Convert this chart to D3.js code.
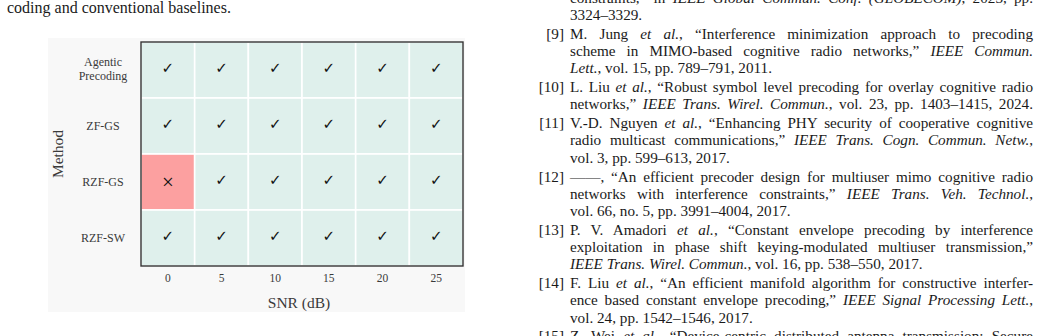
<!DOCTYPE html>
<html>
<head>
<meta charset="utf-8">
<script src="https://cdn.jsdelivr.net/npm/d3@7"></script>
<style>
  html, body { margin: 0; padding: 0; background: #fff; }
  #page { position: relative; width: 1041px; height: 336px; overflow: hidden; background: #fff; }
  .ln { position: absolute; font-family: "Liberation Serif", "Times New Roman", serif; color: #1a1a1a; white-space: nowrap; line-height: 1; }
  .j { text-align: justify; text-align-last: justify; }
  svg { position: absolute; left: 0; top: 0; }
</style>
</head>
<body>
<div id="page"></div>
<script>
// ---------------- chart data ----------------
const methods = ["Agentic Precoding", "ZF-GS", "RZF-GS", "RZF-SW"];
const snrTicks = [0, 5, 10, 15, 20, 25];
// 1 = feasible (check), 0 = infeasible (cross)
const agenticFeasible = [1, 1, 1, 1, 1, 1];
const zfgsFeasible    = [1, 1, 1, 1, 1, 1];
const rzfgsFeasible   = [0, 1, 1, 1, 1, 1];
const rzfswFeasible   = [1, 1, 1, 1, 1, 1];
const xLabel = "SNR (dB)";
const yLabel = "Method";

// ---------------- surrounding page text ----------------
const leftLines = ["coding and conventional baselines."];
const refLines = [
  {lab: "",     t: "constraints,” in *IEEE Global Commun. Conf. (GLOBECOM)*, 2023, pp.", j: true, gap: false},
  {lab: "",     t: "3324–3329.", j: false, gap: false},
  {lab: "[9]",  t: "M. Jung *et al.*, “Interference minimization approach to precoding", j: true, gap: true},
  {lab: "",     t: "scheme in MIMO-based cognitive radio networks,” *IEEE Commun.*", j: true, gap: false},
  {lab: "",     t: "*Lett.*, vol. 15, pp. 789–791, 2011.", j: false, gap: false},
  {lab: "[10]", t: "L. Liu *et al.*, “Robust symbol level precoding for overlay cognitive radio", j: true, gap: true},
  {lab: "",     t: "networks,” *IEEE Trans. Wirel. Commun.*, vol. 23, pp. 1403–1415, 2024.", j: true, gap: false},
  {lab: "[11]", t: "V.-D. Nguyen *et al.*, “Enhancing PHY security of cooperative cognitive", j: true, gap: true},
  {lab: "",     t: "radio multicast communications,” *IEEE Trans. Cogn. Commun. Netw.*,", j: true, gap: false},
  {lab: "",     t: "vol. 3, pp. 599–613, 2017.", j: false, gap: false},
  {lab: "[12]", t: "——, “An efficient precoder design for multiuser mimo cognitive radio", j: true, gap: true},
  {lab: "",     t: "networks with interference constraints,” *IEEE Trans. Veh. Technol.*,", j: true, gap: false},
  {lab: "",     t: "vol. 66, no. 5, pp. 3991–4004, 2017.", j: false, gap: false},
  {lab: "[13]", t: "P. V. Amadori *et al.*, “Constant envelope precoding by interference", j: true, gap: true},
  {lab: "",     t: "exploitation in phase shift keying-modulated multiuser transmission,”", j: true, gap: false},
  {lab: "",     t: "*IEEE Trans. Wirel. Commun.*, vol. 16, pp. 538–550, 2017.", j: false, gap: false},
  {lab: "[14]", t: "F. Liu *et al.*, “An efficient manifold algorithm for constructive interfer-", j: true, gap: true},
  {lab: "",     t: "ence based constant envelope precoding,” *IEEE Signal Processing Lett.*,", j: true, gap: false},
  {lab: "",     t: "vol. 24, pp. 1542–1546, 2017.", j: false, gap: false},
  {lab: "[15]", t: "Z. Wei *et al.*, “Device-centric distributed antenna transmission: Secure", j: true, gap: true}
];

const page = d3.select("#page");

function fillMarkup(sel, str) {
  str.split("*").forEach((part, i) => {
    if (!part) return;
    sel.append("span").style("font-style", i % 2 ? "italic" : "normal").text(part);
  });
}

// left column body text
const bodyFs = 16;
leftLines.forEach((s, i) => {
  const base = 13 + i * 19;
  page.append("div").attr("class", "ln")
    .style("left", "7px").style("top", (base - 0.8375 * bodyFs) + "px")
    .style("font-size", bodyFs + "px").text(s);
});

// right column references
const refFs = 15.2, pitch = 17.2, refGap = 1.7;
let base = 2.5;
refLines.forEach((r, i) => {
  if (i > 0) base += pitch + (r.gap ? refGap : 0);
  const top = base - 0.8375 * refFs;
  if (r.lab) {
    page.append("div").attr("class", "ln")
      .style("left", "520px").style("width", "44px").style("text-align", "right")
      .style("top", top + "px").style("font-size", refFs + "px").text(r.lab);
  }
  const d = page.append("div").attr("class", "ln" + (r.j ? " j" : ""))
    .style("left", "570px").style("width", "463px")
    .style("top", top + "px").style("font-size", refFs + "px");
  fillMarkup(d, r.t);
});

// ---------------- chart ----------------
const W = 1041, H = 336;
const svg = page.append("svg").attr("width", W).attr("height", H);
const font = "'Liberation Serif', 'Times New Roman', serif";
const labelColor = "#3a3a3a";

// figure background
svg.append("rect").attr("x", 48).attr("y", 38).attr("width", 417).attr("height", 274)
  .attr("fill", "#f8f8f8");

const plot = {left: 141, right: 463, top: 42, bottom: 266};
const x = d3.scaleBand().domain(snrTicks).range([plot.left, plot.right]);
const y = d3.scaleBand().domain(methods).range([plot.top, plot.bottom]);

const series = [agenticFeasible, zfgsFeasible, rzfgsFeasible, rzfswFeasible];
const cells = [];
methods.forEach((m, i) => snrTicks.forEach((s, k) => cells.push({m, s, v: series[i][k]})));

const color = d3.scaleOrdinal().domain([1, 0]).range(["#dff0ec", "#fca0a0"]);

svg.append("g").selectAll("rect").data(cells).join("rect")
  .attr("x", d => x(d.s)).attr("y", d => y(d.m))
  .attr("width", x.bandwidth()).attr("height", y.bandwidth())
  .attr("fill", d => color(d.v))
  .attr("stroke", "#ffffff").attr("stroke-width", 1.6);

svg.append("g").selectAll("text").data(cells).join("text")
  .attr("x", d => x(d.s) + x.bandwidth() / 2)
  .attr("y", d => y(d.m) + y.bandwidth() / 2)
  .attr("dy", d => d.v ? "0.2em" : "0.33em")
  .attr("text-anchor", "middle")
  .attr("font-family", d => d.v ? "'DejaVu Sans', sans-serif" : font)
  .attr("font-size", d => d.v ? 15 : 21)
  .attr("fill", "#111")
  .text(d => d.v ? "✓" : "×");

// frame
svg.append("rect").attr("x", plot.left).attr("y", plot.top)
  .attr("width", plot.right - plot.left).attr("height", plot.bottom - plot.top)
  .attr("fill", "none").attr("stroke", "#333").attr("stroke-width", 1.4);

// x axis
const gx = svg.append("g").attr("transform", `translate(0,${plot.bottom})`)
  .call(d3.axisBottom(x).tickSize(0).tickPadding(8));
gx.select(".domain").remove();
gx.selectAll("text").attr("font-family", font).attr("font-size", 11.5)
  .attr("font-weight", 400).attr("fill", labelColor);

// y axis (labels centred in the margin)
const gy = svg.append("g").attr("transform", `translate(${plot.left},0)`)
  .call(d3.axisLeft(y).tickSize(0));
gy.select(".domain").remove();
gy.selectAll("text").each(function(d) {
  const t = d3.select(this);
  t.text(null).attr("x", -38).attr("text-anchor", "middle")
    .attr("font-family", font).attr("font-size", 12).attr("font-weight", 400)
    .attr("fill", labelColor);
  const words = d.split(" ");
  if (words.length > 1) {
    t.attr("dy", null);
    words.forEach((w, i) => t.append("tspan").attr("x", -38)
      .attr("dy", i === 0 ? "-0.3em" : "1.1em").text(w));
  } else {
    t.text(d);
  }
});

// axis titles
svg.append("text").attr("x", 299).attr("y", 308).attr("text-anchor", "middle")
  .attr("font-family", font).attr("font-size", 15.5).attr("fill", labelColor).text(xLabel);
svg.append("text").attr("transform", `translate(63,${(plot.top + plot.bottom) / 2}) rotate(-90)`)
  .attr("text-anchor", "middle")
  .attr("font-family", font).attr("font-size", 15.5).attr("fill", labelColor).text(yLabel);
</script>
</body>
</html>
